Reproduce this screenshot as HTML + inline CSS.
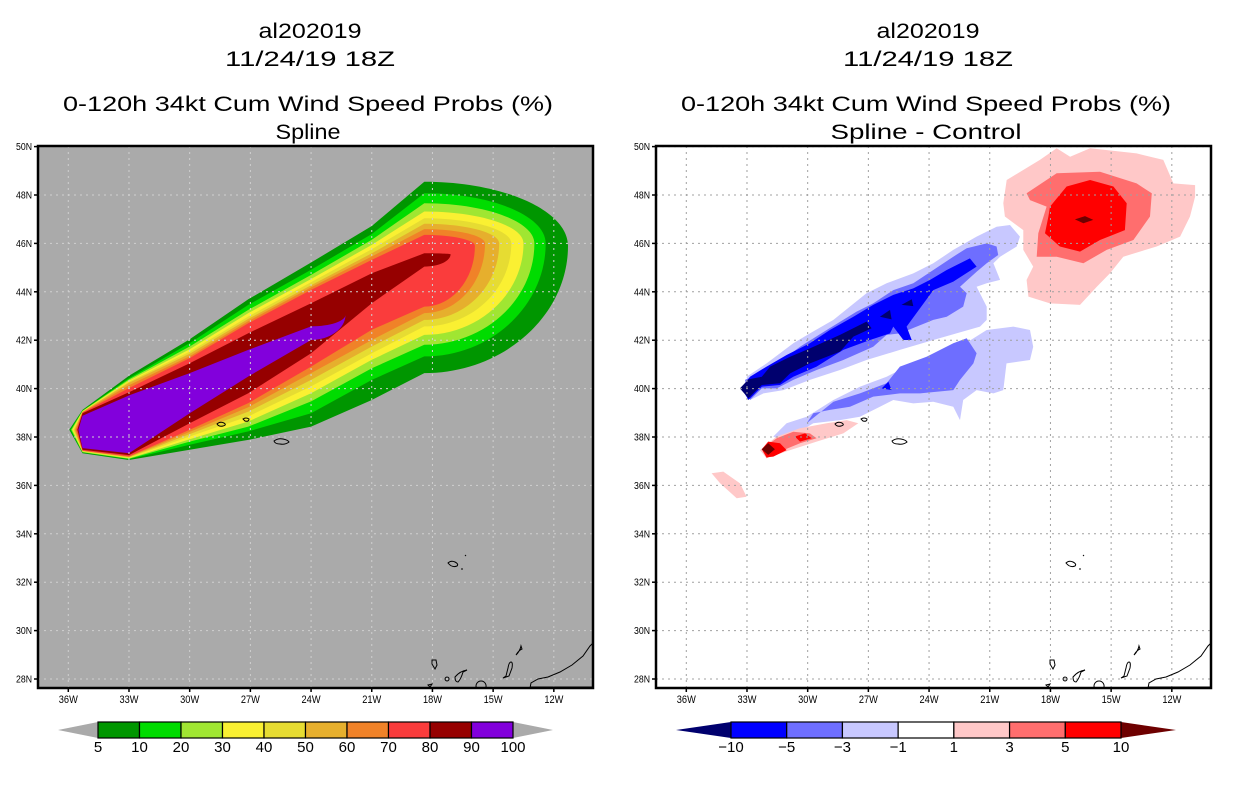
<!DOCTYPE html>
<html><head><meta charset="utf-8"><style>
html,body{margin:0;padding:0;background:#fff;}
svg{display:block;font-family:"Liberation Sans",sans-serif;}
</style></head><body>
<svg id="fig" xmlns="http://www.w3.org/2000/svg" width="1236" height="800" viewBox="0 0 1236 800">
<rect width="1236" height="800" fill="#fff"/>
<g id="left"></g>
<g id="right"></g>
<g id="titles">
 <text x="310" y="38" font-size="21" text-anchor="middle" textLength="103" lengthAdjust="spacingAndGlyphs">al202019</text>
 <text x="310" y="66" font-size="21" text-anchor="middle" textLength="170" lengthAdjust="spacingAndGlyphs">11/24/19 18Z</text>
 <text x="308" y="111" font-size="21" text-anchor="middle" textLength="490" lengthAdjust="spacingAndGlyphs">0-120h 34kt Cum Wind Speed Probs (%)</text>
 <text x="308" y="139" font-size="21" text-anchor="middle" textLength="65" lengthAdjust="spacingAndGlyphs">Spline</text>
 <text x="928" y="38" font-size="21" text-anchor="middle" textLength="103" lengthAdjust="spacingAndGlyphs">al202019</text>
 <text x="928" y="66" font-size="21" text-anchor="middle" textLength="170" lengthAdjust="spacingAndGlyphs">11/24/19 18Z</text>
 <text x="926" y="111" font-size="21" text-anchor="middle" textLength="490" lengthAdjust="spacingAndGlyphs">0-120h 34kt Cum Wind Speed Probs (%)</text>
 <text x="926" y="139" font-size="21" text-anchor="middle" textLength="191" lengthAdjust="spacingAndGlyphs">Spline - Control</text>
</g>
</svg>
<script>
// ---------- data ----------
var stationLonW = [35.3, 33.0, 30.0, 27.1, 24.0, 21.0, 18.4];
var probLevels = [5, 10, 20, 30, 40, 50, 60, 70, 80, 90, 100];
var probColors = ['#009600','#00dc00','#a0e632','#faf032','#e6dc32','#e6af2d','#f08228','#fa3c3c','#960000','#8200dc'];
var probNorth = [
 [39.12,40.53,42.04,43.69,45.21,46.72,48.55],
 [39.09,40.43,41.88,43.46,44.91,46.39,48.07],
 [39.08,40.38,41.74,43.25,44.70,46.15,47.66],
 [39.07,40.33,41.63,43.12,44.53,45.94,47.32],
 [39.05,40.29,41.53,42.98,44.40,45.76,47.04],
 [39.04,40.24,41.44,42.88,44.27,45.59,46.81],
 [39.03,40.14,41.34,42.79,44.18,45.46,46.59],
 [39.01,40.02,41.26,42.70,44.08,45.32,46.35],
 [38.98,39.85,41.05,42.29,43.53,44.77,45.59],
 [38.88,39.72,40.64,41.60,42.57]
];
var probSouth = [
 [37.33,37.05,37.47,37.88,38.43,39.53,40.64],
 [37.36,37.08,37.68,38.23,38.98,40.36,41.33],
 [37.37,37.10,37.81,38.43,39.47,40.84,41.81],
 [37.39,37.12,37.91,38.64,39.81,41.19,42.22],
 [37.40,37.14,38.02,38.85,40.09,41.46,42.57],
 [37.42,37.16,38.12,39.05,40.36,41.74,42.84],
 [37.43,37.18,38.21,39.23,40.64,42.01,43.12],
 [37.44,37.20,38.30,39.40,40.91,42.43,43.39],
 [37.47,37.25,38.57,39.81,41.46,43.53,45.04],
 [37.54,37.33,38.98,40.50,42.01]
];
var probEastLonW = [11.3,12.4,12.96,13.5,14.1,14.7,15.4,15.9,17.1,22.3];
var probEastLat  = [45.9,46.0,46.0,46.0,46.0,46.0,46.0,45.9,45.55,43.05];
var probWestLonW = [35.95,35.9,35.85,35.8,35.75,35.7,35.65,35.6,35.55,35.5];
var probWestLat  = [38.3,38.3,38.3,38.3,38.3,38.3,38.3,38.3,38.3,38.3];

var diffLevels = ['-10','-5','-3','-1','1','3','5','10'];
var diffColors = ['#00006e','#0000ff','#6e6eff','#c8c8ff','#ffffff','#ffc8c8','#ff6e6e','#ff0000','#6e0000'];
var diffLightBlueUpper = [[33.02,40.49],[32.03,41.04],[30.71,41.87],[29.89,42.28],[28.73,42.84],[27.09,43.94],[26.10,44.35],[24.78,44.76],[23.79,45.18],[22.80,45.73],[21.65,46.28],[20.66,46.69],[20.00,46.76],[19.51,46.28],[19.67,45.87],[20.49,45.45],[20.82,45.18],[20.49,44.49],[21.15,44.35],[21.65,44.21],[21.15,43.39],[21.15,42.84],[21.48,42.56],[23.79,42.01],[25.44,41.60],[27.09,41.18],[28.40,40.77],[29.89,40.36],[31.20,39.94],[32.19,39.80],[32.85,39.53]];
var diffLightBlueLower = [[31.70,38.02],[31.04,38.57],[30.05,38.84],[28.73,39.53],[27.42,40.08],[26.10,40.49],[25.11,40.91],[23.79,41.32],[22.47,41.73],[21.15,42.42],[19.83,42.56],[19.01,42.42],[18.85,41.73],[19.01,41.18],[20.17,41.04],[20.33,39.94],[20.82,39.80],[21.65,39.94],[22.31,39.53],[22.47,38.70],[22.80,39.25],[23.79,39.46],[24.78,39.39],[25.77,39.53],[26.43,39.25],[27.42,38.84],[28.40,38.70],[29.72,38.57],[30.54,38.15],[31.37,37.88]];
var diffMidBlueUpper = [[33.10,40.36],[32.36,40.63],[31.70,40.91],[30.38,41.73],[29.06,42.42],[27.58,43.18],[26.76,43.52],[25.77,44.07],[24.78,44.35],[23.79,44.90],[22.80,45.45],[22.14,45.80],[21.15,46.00],[20.66,45.87],[20.58,45.52],[21.15,45.18],[21.65,44.83],[22.47,44.21],[22.14,43.94],[22.31,43.39],[23.13,42.97],[23.79,42.84],[25.44,42.28],[26.10,42.22],[26.76,41.73],[28.24,41.18],[29.56,40.77],[30.71,40.36],[31.53,40.01],[32.27,40.01],[32.85,39.53]];
var diffMidBlueLower = [[30.05,38.57],[28.73,39.46],[27.42,39.80],[26.10,40.22],[25.44,40.91],[24.12,41.32],[22.80,41.87],[22.14,42.08],[21.65,41.46],[21.81,41.04],[22.47,40.36],[22.80,39.94],[24.45,39.80],[25.44,39.80],[26.76,39.67],[27.91,39.25],[28.90,39.12],[29.72,38.98]];
var diffBlue = [[33.26,40.01],[32.85,40.49],[32.03,40.91],[31.04,41.39],[29.89,41.87],[28.90,42.42],[27.74,42.97],[26.76,43.46],[25.77,43.87],[24.78,44.14],[23.95,44.49],[23.13,44.90],[21.98,45.38],[21.65,45.04],[22.80,44.42],[23.79,44.07],[25.11,42.56],[24.86,42.01],[25.27,42.01],[25.77,42.56],[25.93,42.28],[26.92,42.01],[28.24,41.60],[29.56,40.91],[30.71,40.49],[31.37,40.15],[32.27,40.08],[32.93,39.53]];
var diffBlueSmall = [[26.34,40.01],[26.01,40.29],[25.85,39.94]];
var diffNavy = [[33.35,40.01],[32.93,40.38],[32.27,40.49],[31.86,40.91],[30.87,41.32],[29.89,41.66],[28.40,42.22],[27.09,42.77],[26.84,42.49],[27.74,42.15],[28.40,41.53],[29.89,41.04],[30.87,40.63],[31.37,40.22],[32.27,40.15],[32.93,39.60]];
var diffNavySmall1 = [[26.43,42.97],[25.93,43.25],[25.85,42.86]];
var diffNavySmall2 = [[25.36,43.46],[24.86,43.69],[24.78,43.41]];
var diffPinkNE = [[20.33,47.66],[20.16,48.62],[18.52,49.45],[17.69,49.93],[17.03,49.58],[16.04,49.93],[13.74,49.72],[12.42,49.45],[11.92,48.48],[10.85,48.41],[10.85,47.93],[11.10,47.11],[11.59,46.28],[12.75,45.87],[14.40,45.45],[15.06,44.76],[15.71,44.21],[16.54,43.46],[18.02,43.52],[19.09,43.80],[19.18,44.49],[18.85,45.04],[19.34,45.73],[19.34,46.55],[20.25,47.11]];
var diffSalmonNE = [[19.18,48.07],[17.69,48.90],[15.55,48.96],[13.74,48.48],[12.99,48.07],[13.08,47.11],[13.90,46.14],[15.22,45.73],[16.37,45.18],[17.69,45.45],[18.68,45.45],[18.60,46.42],[18.19,47.52],[19.01,47.79]];
var diffRedNE = [[18.02,47.52],[17.20,48.35],[16.04,48.62],[14.89,48.35],[14.23,47.66],[14.32,46.55],[15.55,46.14],[16.54,45.66],[17.53,45.87],[18.27,46.42],[18.10,47.11]];
var diffDarkRedNE = [[16.79,46.99],[16.29,47.13],[15.88,46.97],[16.37,46.83]];
var diffPinkSW = [[32.36,37.46],[31.53,38.02],[30.38,38.36],[29.06,38.57],[28.07,38.70],[27.50,38.57],[28.24,38.15],[29.56,37.81],[30.87,37.46],[32.03,37.12]];
var diffSalmonSW = [[32.27,37.49],[31.53,37.95],[30.71,38.22],[29.89,38.15],[29.56,37.95],[30.38,37.74],[31.37,37.40],[32.03,37.12]];
var diffRedSW1 = [[32.27,37.49],[31.95,37.81],[31.37,37.74],[31.04,37.46],[31.70,37.19],[32.03,37.16]];
var diffRedSW2 = [[30.63,38.02],[30.13,38.15],[29.80,37.95],[30.38,37.81]];
var diffDarkRedSW = [[32.27,37.49],[31.95,37.74],[31.62,37.49],[31.95,37.26]];
var diffPinkFarW = [[34.75,36.50],[34.17,36.57],[33.35,36.09],[33.02,35.53],[33.51,35.47],[34.33,36.09]];

var lonTicks = [36,33,30,27,24,21,18,15,12];
var latTicks = [28,30,32,34,36,38,40,42,44,46,48,50];

// ---------- helpers ----------
var NS='http://www.w3.org/2000/svg';
function mk(tag, attrs, parent){var e=document.createElementNS(NS,tag);for(var k in attrs)e.setAttribute(k,attrs[k]);parent.appendChild(e);return e;}
var MAPW=555, MAPTOP=146, MAPBOT=688;
function xOf(x0, lonW){return x0 + 30.3 + (36 - lonW)*20.23;}
function yOf(lat){return 679 - (lat-28)*24.2;}
function polyStr(x0, pts){return pts.map(function(p){return xOf(x0,p[0]).toFixed(1)+','+yOf(p[1]).toFixed(1);}).join(' ');}

function drawPanel(g, x0, bg, clipId){
  var defs=mk('defs',{},g);
  var cp=mk('clipPath',{id:clipId},defs);
  mk('rect',{x:x0,y:MAPTOP,width:MAPW,height:MAPBOT-MAPTOP},cp);
  var bgr=mk('rect',{x:x0,y:MAPTOP,width:MAPW,height:MAPBOT-MAPTOP,fill:bg},g);
  
  
  var fills=mk('g',{'clip-path':'url(#'+clipId+')'},g);
  
  
  return fills;
}
function drawOverlay(g, x0, gridColor, clipId){
  var ov=mk('g',{'clip-path':'url(#'+clipId+')'},g);
  
  
  lonTicks.forEach(function(l){
    var x=xOf(x0,l);
    var ln=mk('line',{x1:x,y1:MAPTOP,x2:x,y2:MAPBOT,stroke:gridColor,'stroke-width':1,'stroke-dasharray':'2,4'},ov);
    
    
  });
  latTicks.forEach(function(l){
    var y=yOf(l);
    var ln=mk('line',{x1:x0,y1:y,x2:x0+MAPW,y2:y,stroke:gridColor,'stroke-width':1,'stroke-dasharray':'2,4'},ov);
    
    
  });
  var c=mk('g',{fill:'none',stroke:'#000','stroke-width':1,transform:'translate('+(x0-38)+',0)'},ov);
  
  
  ['M217,424 q3,-3 7,-1 q3,2 -1,3 q-4,1 -6,-2z',
   'M243,419 q3,-2 6,0 q0,3 -4,2z',
   'M274,441 q4,-3 9,-2 q5,1 6,3 q-4,3 -9,2 q-5,0 -6,-3z',
   'M448,563 q3,-3 7,-1 q4,2 2,4 q-5,2 -9,-3z','M465,556 l1,-1','M462,568 l0,2',
   'M432,660 l4,0 l1,5 l-2,4 l-3,-5z','M447,677 a2,2 0 1,0 0.1,0',
   'M455,677 q5,-6 12,-7 l-4,2 q-2,7 -5,10 q-3,0 -3,-5z',
   'M481,681 a5,5 0 1,0 0.1,0z','M503,678 l3,-2 l2,-8 q1,-6 3,-6 q2,0 1,6 l-3,8z',
   'M516,655 q3,-5 6,-6 l-1,-3 q-1,5 -5,9z','M428,685 l4,-1 l-2,3z',
   'M530,688 L531,683 L538,679 L548,677 L560,672 L572,665 L583,656 L590,646 L593,643',
   'M530,687 L593,687'
  ].forEach(function(d){var p=mk('path',{d:d},c);});
  var fr=mk('rect',{x:x0,y:MAPTOP,width:MAPW,height:MAPBOT-MAPTOP,fill:'none',stroke:'#000','stroke-width':2.5},g);
  
  
  latTicks.forEach(function(l){
    var y=yOf(l);
    mk('line',{x1:x0-4,y1:y,x2:x0,y2:y,stroke:'#000','stroke-width':1.5},g);
    var t=mk('text',{x:x0-6,y:y+3.5,'font-size':10,'text-anchor':'end',textLength:16,lengthAdjust:'spacingAndGlyphs'},g);
    t.textContent=l+'N';
    
    
  });
  lonTicks.forEach(function(l){
    var x=xOf(x0,l);
    mk('line',{x1:x,y1:MAPBOT,x2:x,y2:MAPBOT+4,stroke:'#000','stroke-width':1.5},g);
    var t=mk('text',{x:x,y:MAPBOT+15,'font-size':11,'text-anchor':'middle',textLength:19,lengthAdjust:'spacingAndGlyphs'},g);
    t.textContent=l+'W';
    
    
  });
}

// ---------- left panel ----------
var L=document.getElementById('left');
var lf=drawPanel(L,38,'#aaaaaa','clipL');
var k=0.55;
for(var i=0;i<probColors.length;i++){
  var N=probNorth[i], S=probSouth[i], n=N.length;
  var d='M'+xOf(38,probWestLonW[i]).toFixed(1)+','+yOf(probWestLat[i]).toFixed(1);
  for(var j=0;j<n;j++) d+=' L'+xOf(38,stationLonW[j]).toFixed(1)+','+yOf(N[j]).toFixed(1);
  var Tx=xOf(38,stationLonW[n-1]),Ty=yOf(N[n-1]),Ex=xOf(38,probEastLonW[i]),Ey=yOf(probEastLat[i]),Bx=Tx,By=yOf(S[n-1]);
  d+=' C'+(Tx+k*(Ex-Tx)).toFixed(1)+','+Ty.toFixed(1)+' '+Ex.toFixed(1)+','+(Ey-k*(Ey-Ty)).toFixed(1)+' '+Ex.toFixed(1)+','+Ey.toFixed(1);
  d+=' C'+Ex.toFixed(1)+','+(Ey+k*(By-Ey)).toFixed(1)+' '+(Bx+k*(Ex-Bx)).toFixed(1)+','+By.toFixed(1)+' '+Bx.toFixed(1)+','+By.toFixed(1);
  for(var j2=n-2;j2>=0;j2--) d+=' L'+xOf(38,stationLonW[j2]).toFixed(1)+','+yOf(S[j2]).toFixed(1);
  d+='Z';
  var p=mk('path',{d:d,fill:probColors[i]},lf);
  
  
}
drawOverlay(L,38,'#d0d0d0','clipL');

// ---------- right panel ----------
var R=document.getElementById('right');
var rf=drawPanel(R,656,'#ffffff','clipR');
var diffAreas=[
 ['diff-pink-far-west',5,diffPinkFarW],
 ['diff-lightblue-lower',3,diffLightBlueLower],['diff-lightblue-upper',3,diffLightBlueUpper],
 ['diff-midblue-lower',2,diffMidBlueLower],['diff-midblue-upper',2,diffMidBlueUpper],
 ['diff-blue',1,diffBlue],['diff-blue-small',1,diffBlueSmall],['diff-navy',0,diffNavy],
 ['diff-navy-small-1',0,diffNavySmall1],['diff-navy-small-2',0,diffNavySmall2],
 ['diff-pink-ne',5,diffPinkNE],['diff-salmon-ne',6,diffSalmonNE],['diff-red-ne',7,diffRedNE],['diff-darkred-ne',8,diffDarkRedNE],
 ['diff-pink-sw',5,diffPinkSW],['diff-salmon-sw',6,diffSalmonSW],['diff-red-sw-1',7,diffRedSW1],['diff-red-sw-2',7,diffRedSW2],['diff-darkred-sw',8,diffDarkRedSW]
];
diffAreas.forEach(function(a){
  var p=mk('polygon',{points:polyStr(656,a[2]),fill:diffColors[a[1]]},rf);
  
  
});
drawOverlay(R,656,'#a0a0a0','clipR');

// ---------- colorbars ----------
var svg=document.getElementById('fig');
function colorbar(name,x0,x1,cols,labels,triL,triR,triStart,triEnd){
  var g=mk('g',{},svg);
  
  
  var y0=722,y1=738,ym=730,nb=cols.length,w=(x1-x0)/nb;
  var tl=mk('polygon',{points:triStart+','+ym+' '+x0+','+y0+' '+x0+','+y1,fill:triL},g);
  
  
  var tr=mk('polygon',{points:triEnd+','+ym+' '+x1+','+y0+' '+x1+','+y1,fill:triR},g);
  
  
  cols.forEach(function(c,i){
    var r=mk('rect',{x:x0+i*w,y:y0,width:w,height:y1-y0,fill:c,stroke:'#000','stroke-width':1.2},g);
    
    
  });
  labels.forEach(function(l,i){
    var t=mk('text',{x:x0+i*w,y:752,'font-size':15,'text-anchor':'middle'},g);
    t.textContent=l.replace('-','\u2212');
    
    
  });
}
colorbar('prob-colorbar',98,513,probColors,probLevels.map(String),'#aaaaaa','#aaaaaa',58,553);
colorbar('diff-colorbar',731,1121,diffColors.slice(1,8),diffLevels,diffColors[0],diffColors[8],676,1176);
</script>
</body></html>
